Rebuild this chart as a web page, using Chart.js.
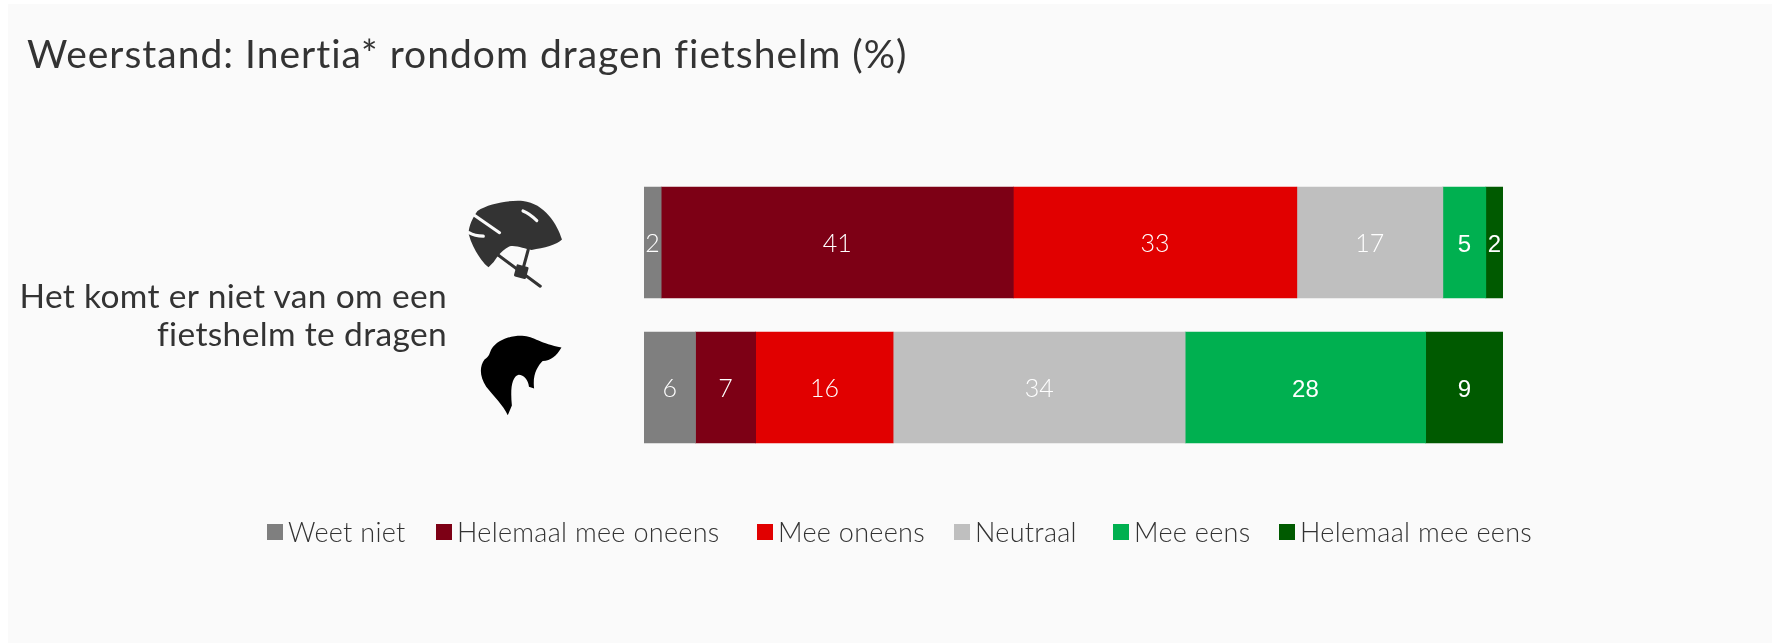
<!DOCTYPE html>
<html lang="nl">
<head>
<meta charset="utf-8">
<title>Weerstand: Inertia rondom dragen fietshelm</title>
<script src="https://cdn.jsdelivr.net/npm/chart.js@4/dist/chart.umd.min.js"></script>
<style>
    html, body { margin: 0; padding: 0; background: #fff; }
    #panel { position: absolute; left: 8px; top: 4px; width: 1764px; height: 639px; background: #fafafa; }
    #wrap { position: absolute; left: 0; top: 0; width: 1772px; height: 643px; }
    #titel, #groep, #legenda { position: absolute; color: #333; font-family: Lato, sans-serif; white-space: nowrap; }
    #titel { left: 27px; top: 30px; font-size: 39px; line-height: 46px; font-weight: 400; letter-spacing: 1px; }
    #groep { right: 1325px; top: 276px; font-size: 33.5px; line-height: 38px; text-align: right; font-weight: 400; letter-spacing: 0.35px; }
    #legenda { left: 0; top: 516px; font-size: 27px; line-height: 32px; font-weight: 300; letter-spacing: 0.3px; }
    #legenda span.item { position: absolute; display: flex; align-items: center; }
    #legenda i { display: block; width: 16px; height: 16px; margin-right: 5px; }
    #iconen { position: absolute; left: 0; top: 0; }
</style>
</head>
<body>
<div id="panel"></div>
<div id="wrap"><canvas id="grafiek" width="1772" height="643"></canvas></div>
<svg id="iconen" width="1772" height="643">
    <!-- helm -->
    <g transform="translate(454,193) scale(0.345)">
        <path fill="#333" d="M68 52C100 30 160 20 200 23C262 30 300 90 313 135C300 150 260 160 225 165C205 163 180 150 160 155C140 165 128 180 115 200L100 215C85 205 55 165 43 120C40 100 55 70 68 52Z"/>
        <g fill="none" stroke="#fafafa" stroke-width="9" stroke-linecap="round">
            <path d="M60 65L132 115"/>
            <path d="M43 115C55 122 70 125 85 125"/>
            <path d="M200 52C215 58 228 68 240 80"/>
        </g>
        <g fill="none" stroke="#333" stroke-linecap="round">
            <path stroke-width="9" d="M128 180L250 270"/>
            <path stroke-width="9" d="M215 165L200 220"/>
        </g>
        <rect x="177" y="210" width="36" height="36" rx="4" fill="#333" transform="rotate(15 195 228)"/>
    </g>
    <!-- haar -->
    <g transform="translate(464,323.5) scale(0.342)">
        <path fill="#000" d="M80 75C100 45 140 35 170 36C205 38 225 60 285 70C270 95 255 108 230 110C215 125 200 150 205 190L190 185C188 165 175 150 160 150C140 155 135 190 140 240L128 268C115 240 85 210 65 185C45 155 45 125 60 105C75 95 75 85 80 75Z"/>
    </g>
</svg>
<div id="titel">Weerstand: Inertia* rondom dragen fietshelm (%)</div>
<div id="groep">Het komt er niet van om een<br>fietshelm te dragen</div>
<div id="legenda"></div>

<script>
const categorieen = ["Met helm", "Zonder helm"];
const reeksNamen = ["Weet niet", "Helemaal mee oneens", "Mee oneens", "Neutraal", "Mee eens", "Helemaal mee eens"];
const weetNiet = [2, 6];
const helemaalOneens = [41, 7];
const oneens = [33, 16];
const neutraal = [17, 34];
const eens = [5, 28];
const helemaalEens = [2, 9];
const kleuren = ["#7f7f7f", "#7d0015", "#e10000", "#bfbfbf", "#00b050", "#005a00"];
const legendaLinks = [267, 436, 757, 954, 1113, 1279];

const waarden = [weetNiet, helemaalOneens, oneens, neutraal, eens, helemaalEens];

// Labels midden in elk segment, de groene reeksen staan in een ander lettertype
const segmentLabels = {
    id: "segmentLabels",
    afterDatasetsDraw(chart) {
        const ctx = chart.ctx;
        ctx.save();
        ctx.textAlign = "center";
        ctx.textBaseline = "middle";
        chart.data.datasets.forEach((ds, i) => {
            chart.getDatasetMeta(i).data.forEach((bar, j) => {
                const p = bar.getCenterPoint();
                ctx.fillStyle = "#fff";
                ctx.font = i >= 4 ? "24px 'Liberation Sans'" : "300 25px Lato";
                ctx.fillText(String(ds.data[j]), p.x, p.y + (i >= 4 ? 3 : 1));
            });
        });
        ctx.restore();
    }
};

new Chart(document.getElementById("grafiek"), {
    type: "bar",
    data: {
        labels: categorieen,
        datasets: reeksNamen.map((naam, i) => ({
            label: naam,
            data: waarden[i],
            backgroundColor: kleuren[i],
            barThickness: 111
        }))
    },
    options: {
        indexAxis: "y",
        responsive: false,
        animation: false,
        layout: { padding: { left: 644, right: 269, top: 170, bottom: 183 } },
        scales: {
            x: { stacked: true, min: 0, max: 100, display: false },
            y: { stacked: true, display: false }
        },
        plugins: {
            legend: { display: false },
            tooltip: { enabled: false }
        }
    },
    plugins: [segmentLabels]
});

// Legenda als gewone tekst
const legenda = document.getElementById("legenda");
reeksNamen.forEach((naam, i) => {
    const item = document.createElement("span");
    item.className = "item";
    item.style.left = legendaLinks[i] + "px";
    const blok = document.createElement("i");
    blok.style.background = kleuren[i];
    item.appendChild(blok);
    item.appendChild(document.createTextNode(naam));
    legenda.appendChild(item);
});
</script>
</body>
</html>
